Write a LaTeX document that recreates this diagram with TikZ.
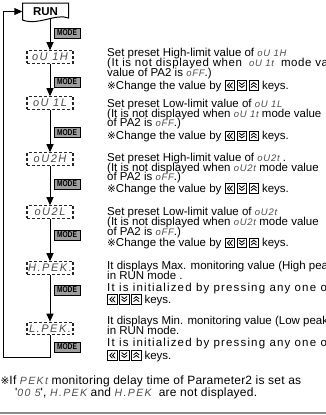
\documentclass[tikz,border=0pt]{standalone}
\usepackage{fontspec}
\setmainfont{Liberation Sans}
\newfontfamily\refmarkfont{DejaVu Sans}
\newfontfamily\segfont[LetterSpace=8]{Liberation Sans}
\newfontfamily\seglfont[LetterSpace=13]{Liberation Sans}
\newfontfamily\segboxfont[LetterSpace=14]{Liberation Sans}
\newfontfamily\spreadfont[LetterSpace=10]{Liberation Sans}
\newfontfamily\widefont[LetterSpace=5]{Liberation Sans}
\newfontfamily\footfont[LetterSpace=2]{Liberation Sans}
\usetikzlibrary{arrows.meta}

\newcommand\refm{{\refmarkfont\fontsize{10.5}{10}\selectfont ※}}
\newcommand\seg[1]{{\segfont\itshape\fontsize{9.5}{10}\selectfont\color{black!70}#1}}
\newcommand\segl[1]{{\seglfont\itshape\fontsize{10.5}{10}\selectfont\color{black!70}#1}}
\newcommand\keyL{\tikz[x=1pt,y=1pt,baseline=0pt]{\draw[line width=.7pt] (0,-1.2) rectangle (9.5,8.3);
  \draw[line width=.85pt] (4.8,6.3)--(2.3,3.55)--(4.8,0.8) (7.5,6.3)--(5,3.55)--(7.5,0.8);}}
\newcommand\keyD{\tikz[x=1pt,y=1pt,baseline=0pt]{\draw[line width=.7pt] (0,-1.2) rectangle (9.5,8.3);
  \draw[line width=.85pt] (2,6.5)--(4.75,4.3)--(7.5,6.5) (2,3.7)--(4.75,1.5)--(7.5,3.7);}}
\newcommand\keyU{\tikz[x=1pt,y=1pt,baseline=0pt]{\draw[line width=.7pt] (0,-1.2) rectangle (9.5,8.3);
  \draw[line width=.85pt] (2,1.4)--(4.75,3.6)--(7.5,1.4) (2,4.2)--(4.75,6.4)--(7.5,4.2);}}
\newcommand\keyset{\keyL\kern1.8pt\keyD\kern1.8pt\keyU}

\tikzset{
  txt/.style={anchor=base west, inner sep=0pt, font=\fontsize{11.5}{10}\selectfont},
  foot/.style={anchor=base west, inner sep=0pt, font=\footfont\fontsize{12}{10}\selectfont},
  segbox/.style={draw=black!85, line width=1.1pt, dash pattern=on 3pt off 2pt,
    minimum width=46pt, minimum height=12.5pt, inner sep=0pt,
    font=\segboxfont\itshape\fontsize{11}{10}\selectfont, text=black!70},
  modebox/.style={draw=black, line width=.6pt, fill=black!38, minimum width=26pt,
    minimum height=10pt, inner sep=0pt},
  flow/.style={line width=1pt, -{Triangle[length=8pt,width=7pt]}},
}
\newcommand\modetxt{\scalebox{0.78}[1]{\bfseries\fontsize{8.5}{8.5}\selectfont MODE}}

\begin{document}
\begin{tikzpicture}[x=1pt,y=-1pt]
\clip (0,0) rectangle (326,415);

% RUN box
\draw[line width=1pt, fill=white] (22.5,3) -- (68.5,3) -- (68.5,18)
  .. controls (56,13) and (38,26) .. (22.5,20) -- cycle;
\node[inner sep=0pt, minimum width=46pt, minimum height=17pt,
      font=\bfseries\fontsize{11.5}{11}\selectfont] (run) at (45.5,11.5) {RUN};

% display boxes
\node[segbox] (b1) at (50,57) {oU 1H};
\node[segbox] (b2) at (50,103) {oU 1L};
\node[segbox] (b3) at (50,159) {oU2H};
\node[segbox] (b4) at (50,212) {oU2L};
\node[segbox] (b5) at (50,268) {H.PEK.};
\node[segbox] (b6) at (50,328.5) {L.PEK.};

% MODE labels
\node[modebox] (m0) at (67,33) {\modetxt};
\node[modebox] (m1) at (67,82) {\modetxt};
\node[modebox] (m2) at (67,132.5) {\modetxt};
\node[modebox] (m3) at (67,184) {\modetxt};
\node[modebox] (m4) at (67,235) {\modetxt};
\node[modebox] (m5) at (67,290) {\modetxt};
\node[modebox] (m6) at (67,347) {\modetxt};

% connectors
\draw[flow] (b1.north |- 0,19) -- (b1.north);
\draw[flow] (b1) -- (b2);
\draw[flow] (b2) -- (b3);
\draw[flow] (b3) -- (b4);
\draw[flow] (b4) -- (b5);
\draw[flow] (b5) -- (b6);
\coordinate (corner) at (3,357);
\draw[flow] (b6.south) |- (corner) |- (run.west);

% texts
\node[txt] (t1a) at (107,56) {Set preset High-limit value of \seg{oU 1H}};
\node[txt] (t1b) at (107,66.5) {\widefont(It is not displayed when\hspace{7pt}\seg{oU 1t}\hspace{7pt}mode value};
\node[txt] (t1c) at (107,76) {value of PA2 is \seg{oFF}.)};
\node[txt] (t1d) at (107,89) {\refm Change the value by \keyset\ keys.};

\node[txt] (t2a) at (107,107) {Set preset Low-limit value of \seg{oU 1L}};
\node[txt] (t2b) at (107,117) {(It is not displayed when \seg{oU 1t} mode value};
\node[txt] (t2c) at (107,126.5) {of PA2 is \seg{oFF}.)};
\node[txt] (t2d) at (107,139.5) {\refm Change the value by \keyset\ keys.};

\node[txt] (t3a) at (107,161) {Set preset High-limit value of \seg{oU2t} .};
\node[txt] (t3b) at (107,171) {(It is not displayed when \seg{oU2t} mode value};
\node[txt] (t3c) at (107,180.5) {of PA2 is \seg{oFF}.)};
\node[txt] (t3d) at (107,192) {\refm Change the value by \keyset\ keys.};

\node[txt] (t4a) at (107,215) {Set preset Low-limit value of \seg{oU2t}};
\node[txt] (t4b) at (107,225.5) {(It is not displayed when \seg{oU2t} mode value};
\node[txt] (t4c) at (107,235) {of PA2 is \seg{oFF}.)};
\node[txt] (t4d) at (107,246.5) {\refm Change the value by \keyset\ keys.};

\node[txt] (t5a) at (107,269) {It displays Max. monitoring value (High peak)};
\node[txt] (t5b) at (107,279) {in RUN mode .};
\node[txt] (t5c) at (107,291) {\spreadfont It is initialized by pressing any one of};
\node[txt] (t5d) at (107,303) {\keyset\ keys.};

\node[txt] (t6a) at (107,324) {It displays Min. monitoring value (Low peak)};
\node[txt] (t6b) at (107,334) {in RUN mode.};
\node[txt] (t6c) at (107,346) {\spreadfont It is initialized by pressing any one of};
\node[txt] (t6d) at (107,359) {\keyset\ keys.};

\node[foot] (f1) at (0.5,384) {\refm If \segl{PEKt} monitoring delay time of Parameter2 is set as};
\node[foot] (f2) at (15,396.5) {'\segl{00 5}', \segl{H.PEK} and \segl{H.PEK}\ \ are not displayed.};

\draw[black!45, line width=2pt] (0,412.5) -- (326,412.5);
\end{tikzpicture}
\end{document}
